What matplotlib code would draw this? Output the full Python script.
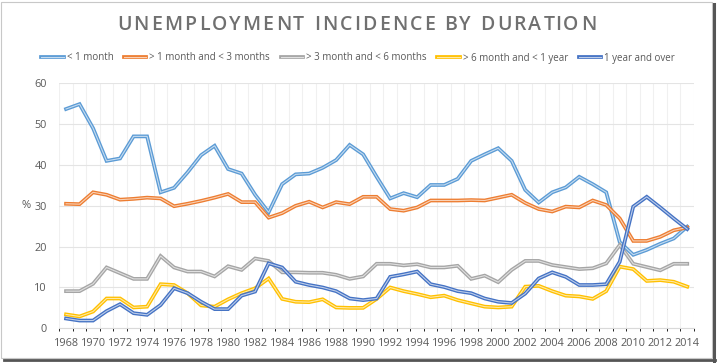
import numpy as np
import matplotlib
matplotlib.use("Agg")
import matplotlib.pyplot as plt
import matplotlib.patheffects as pe
from matplotlib.colors import to_rgb
from matplotlib.font_manager import FontProperties

# Данные
years = list(range(1968, 2015))

lt_1m = [53.7, 54.9, 49.0, 41.0, 41.6, 47.0, 47.0, 33.3, 34.4, 38.2,
         42.4, 44.7, 39.0, 37.9, 32.7, 28.4, 35.3, 37.7, 37.9, 39.3,
         41.2, 44.9, 42.6, 37.1, 31.8, 33.1, 32.1, 35.1, 35.1, 36.6,
         41.0, 42.6, 44.1, 41.0, 33.9, 30.8, 33.3, 34.5, 37.1, 35.3,
         33.3, 21.1, 18.0, 19.2, 20.7, 22.0, 24.9]
m1_3 = [30.5, 30.4, 33.3, 32.7, 31.5, 31.7, 32.0, 31.8, 29.9, 30.5,
        31.2, 32.0, 32.9, 30.9, 30.9, 27.1, 28.2, 30.0, 31.0, 29.6,
        30.9, 30.4, 32.2, 32.2, 29.2, 28.8, 29.6, 31.3, 31.3, 31.3,
        31.4, 31.3, 32.0, 32.7, 30.7, 29.2, 28.6, 29.8, 29.6, 31.3,
        30.2, 26.9, 21.4, 21.4, 22.4, 24.0, 24.7]
m3_6 = [9.1, 9.1, 10.9, 14.9, 13.5, 12.1, 12.1, 17.7, 14.9, 13.9,
        13.9, 12.7, 15.2, 14.3, 17.1, 16.5, 13.7, 13.7, 13.6, 13.6,
        13.1, 12.1, 12.7, 15.8, 15.8, 15.4, 15.7, 14.9, 14.9, 15.3,
        12.1, 12.9, 11.3, 14.3, 16.5, 16.5, 15.5, 15.0, 14.5, 14.7,
        15.9, 20.4, 15.8, 15.0, 14.2, 15.8, 15.8]
m6_12 = [3.4, 2.9, 4.1, 7.3, 7.3, 5.1, 5.3, 10.8, 10.6, 8.6,
         5.6, 5.3, 7.1, 8.6, 9.8, 12.2, 7.2, 6.5, 6.4, 7.1,
         5.1, 5.0, 5.0, 7.2, 10.0, 9.1, 8.4, 7.6, 8.0, 6.9,
         6.1, 5.3, 5.1, 5.3, 10.2, 10.4, 9.1, 8.0, 7.8, 7.2,
         9.1, 15.1, 14.5, 11.6, 11.8, 11.4, 10.2]
y1_plus = [2.4, 1.9, 1.9, 4.2, 5.9, 3.7, 3.3, 5.7, 9.8, 8.6,
           6.5, 4.7, 4.7, 8.0, 9.0, 15.9, 14.9, 11.4, 10.6, 10.0,
           9.1, 7.3, 6.9, 7.3, 12.6, 13.2, 13.9, 10.8, 10.1, 9.1,
           8.6, 7.3, 6.5, 6.2, 8.5, 12.2, 13.7, 12.6, 10.6, 10.6,
           10.8, 16.3, 29.8, 32.2, 29.6, 26.9, 24.3]

labels = ["< 1 month", "> 1 month and < 3 months", "> 3 month and < 6 months",
          "> 6 month and < 1 year", "1 year and over"]
colors = ["#5B9BD5", "#ED7D31", "#A5A5A5", "#FFC000", "#4472C4"]
series = [lt_1m, m1_3, m3_6, m6_12, y1_plus]
title = 'UNEMPLOYMENT INCIDENCE BY DURATION'

plt.rcParams['font.family'] = ['Open Sans', 'DejaVu Sans']
txt = '#595959'

W, H = 717, 363
fig = plt.figure(figsize=(W / 100, H / 100), dpi=100)
fig.patch.set_facecolor('white')

# область построения (в пикселях)
L, R, T, B = 59.3, 694, 83.3, 328.3
ax = fig.add_axes([L / W, 1 - B / H, (R - L) / W, (B - T) / H])

x = np.arange(len(years))
for vals, lab, col in zip(series, labels, colors):
    inner = tuple(0.35 * np.array(to_rgb(col)) + 0.65)
    ax.plot(x, vals, color=inner, lw=0.8, label=lab, solid_joinstyle='miter',
            path_effects=[pe.Stroke(linewidth=2.7, foreground=col), pe.Normal()])

ax.set_xlim(-0.5, len(years) - 0.5)
ax.set_ylim(0, 60)
ax.set_yticks(range(0, 61, 10))
ax.set_xticks(x[::2])
ax.set_xticklabels([str(y) for y in years[::2]])
ax.set_xticks(np.arange(-0.5, len(years), 1), minor=True)
ax.grid(True, which='minor', axis='x', color='#f0f0f0', lw=0.8)
ax.grid(True, which='major', axis='y', color='#e4e4e4', lw=0.8)
ax.set_axisbelow(True)
for s in ['top', 'right', 'left']:
    ax.spines[s].set_visible(False)
ax.spines['bottom'].set_color('#d9d9d9')
ax.tick_params(length=0, labelsize=7.8, colors=txt)
ax.tick_params(axis='x', pad=7)
ax.tick_params(axis='y', pad=9)
ax.set_ylabel('%', rotation=0, color=txt, fontsize=8, labelpad=6, va='center')

# заголовок с разрядкой: символы ставим по одному
renderer = fig.canvas.get_renderer()
tprop = FontProperties(family=['Open Sans', 'DejaVu Sans'], size=14, weight='semibold')
def tw(s):
    w, _, _ = renderer.get_text_width_height_descent(s, tprop, ismath=False)
    return w
bar_w = tw('|')
track = 2.2  # доп. интервал между буквами, px
pos = [tw(title[:i] + '|') - bar_w + i * track for i in range(len(title))]
total = pos[-1] + tw(title[-1])
x0 = 356.5 - total / 2
for ch, p in zip(title, pos):
    if ch != ' ':
        fig.text((x0 + p) / W, 1 - 25 / H, ch, ha='left', va='center',
                 fontproperties=tprop, color='#707070')

fig.legend(loc='center', bbox_to_anchor=(358 / W, 1 - 58 / H), ncol=5,
           frameon=False, fontsize=7, labelcolor=txt, handlelength=2.3,
           handletextpad=0.3, columnspacing=1.1, borderaxespad=0)

# рамка с тенью
def px(xx, yy):
    return xx / W, 1 - yy / H

fig.add_artist(plt.Rectangle(px(1.5, 358), 710 / W, 356.5 / H, fill=False,
                             ec='#c8c8c8', lw=0.8, transform=fig.transFigure))
fig.add_artist(plt.Line2D(*zip(px(713.5, 4), px(713.5, 361)), color='#555555',
                          lw=2.2, transform=fig.transFigure))
fig.add_artist(plt.Line2D(*zip(px(4, 360.2), px(714.5, 360.2)), color='#555555',
                          lw=2.0, transform=fig.transFigure))

fig.savefig('out.png', dpi=100)
